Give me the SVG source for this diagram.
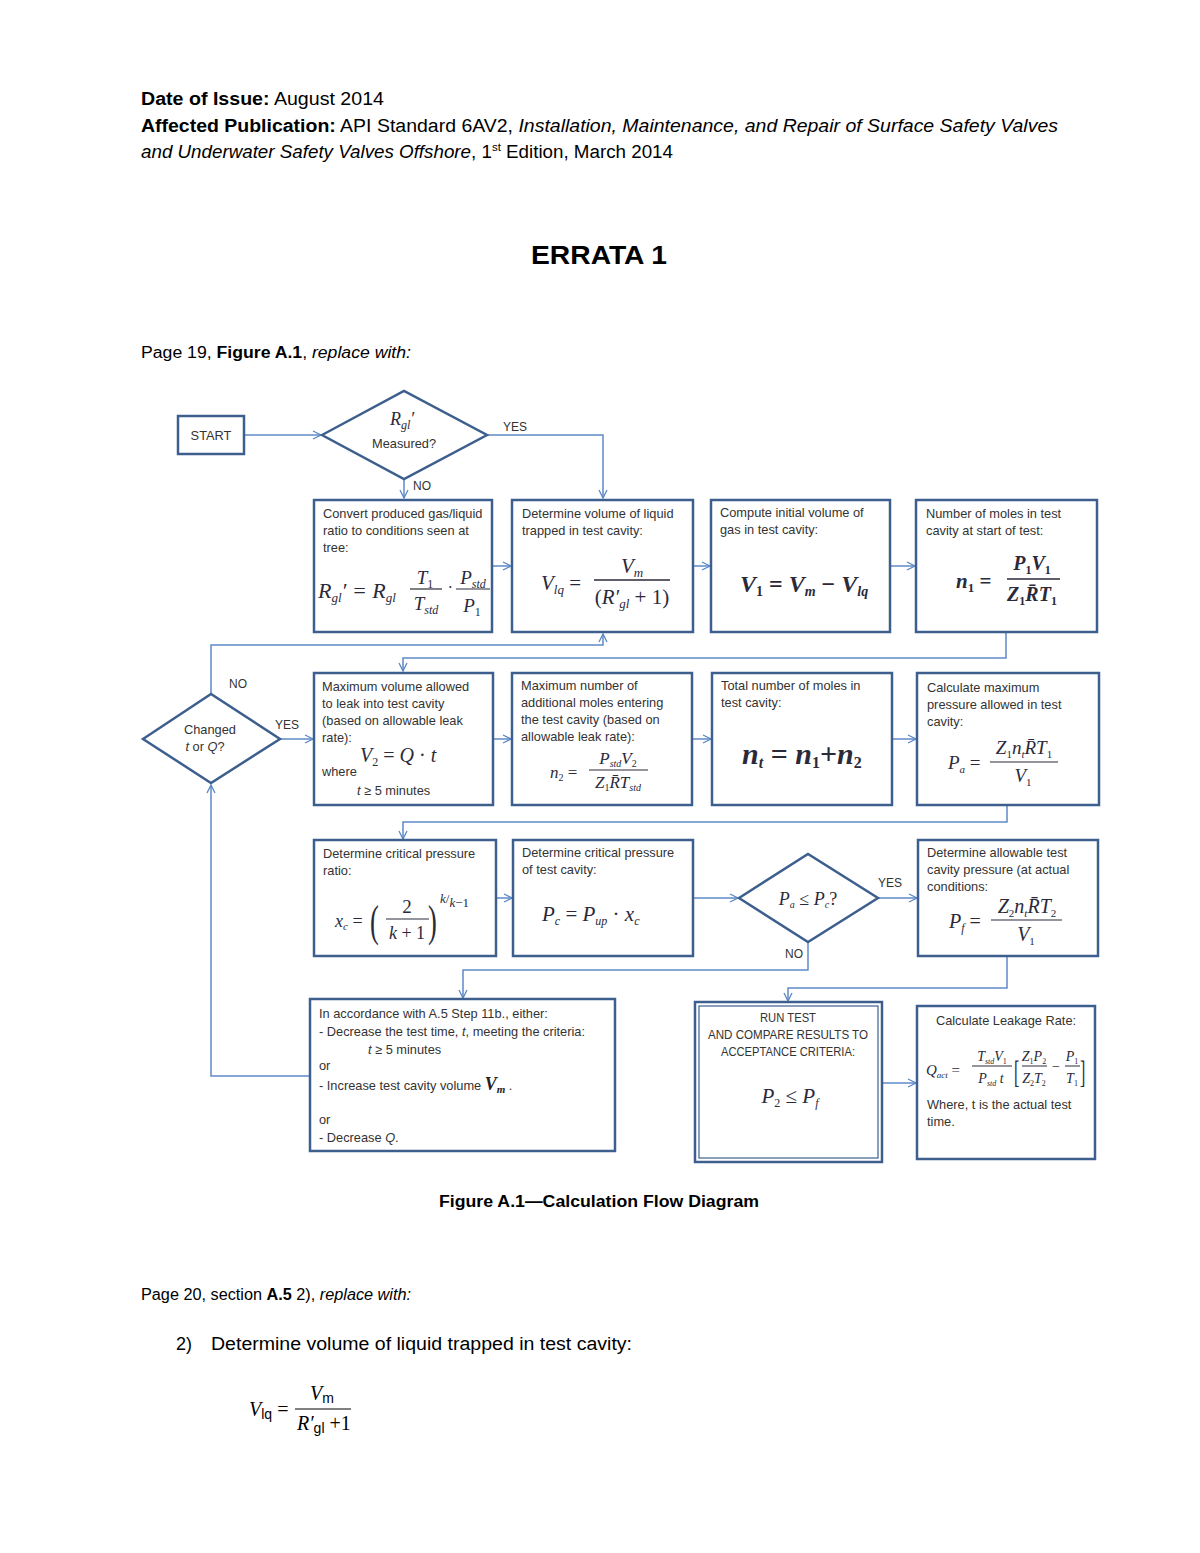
<svg xmlns="http://www.w3.org/2000/svg" width="1200" height="1553" viewBox="0 0 1200 1553">
<defs>
<marker id="arr" markerUnits="userSpaceOnUse" markerWidth="12" markerHeight="12" refX="9" refY="5" orient="auto">
<path d="M1,1 L9,5 L1,9" fill="none" stroke="#5b87c5" stroke-width="1.3"/>
</marker>
<style>
.hd{font-family:"Liberation Sans",Arial,sans-serif;font-size:18px;fill:#000}
.b{font-weight:bold}
.i{font-style:italic}
.box{fill:#fff;stroke:#3d5f8e;stroke-width:2.5}
.con{fill:none;stroke:#5f8bc8;stroke-width:1.5}
.t{font-family:"Liberation Sans",Arial,sans-serif;font-size:12.8px;fill:#333}
.lb{font-family:"Liberation Sans",Arial,sans-serif;font-size:12px;fill:#333}
.fm{font-family:"Liberation Serif","Times New Roman",serif;font-style:italic;fill:#2a2a3a}
.up{font-style:normal}
</style>
</defs>
<rect width="1200" height="1553" fill="#fff"/>

<g id="header">
<text class="hd" x="141" y="105" textLength="243" lengthAdjust="spacingAndGlyphs"><tspan class="b">Date of Issue:</tspan> August 2014</text>
<text class="hd" x="141" y="132" textLength="917" lengthAdjust="spacingAndGlyphs"><tspan class="b">Affected Publication:</tspan> API Standard 6AV2, <tspan class="i">Installation, Maintenance, and Repair of Surface Safety Valves</tspan></text>
<text class="hd" x="141" y="158" textLength="532" lengthAdjust="spacingAndGlyphs"><tspan class="i">and Underwater Safety Valves Offshore</tspan>, 1<tspan font-size="11" dy="-7">st</tspan><tspan dy="7"> Edition, March 2014</tspan></text>
<text x="599" y="264" text-anchor="middle" font-family="Liberation Sans,Arial,sans-serif" font-size="26" font-weight="bold" textLength="136" lengthAdjust="spacingAndGlyphs">ERRATA 1</text>
<text class="hd" x="141" y="358" style="font-size:16px" textLength="270" lengthAdjust="spacingAndGlyphs">Page 19, <tspan class="b">Figure A.1</tspan>, <tspan class="i">replace with:</tspan></text>
</g>

<g id="connectors">
<path class="con" d="M244,435 H321" marker-end="url(#arr)"/>
<path class="con" d="M487,435 H603 V498" marker-end="url(#arr)"/>
<path class="con" d="M404,479 V498" marker-end="url(#arr)"/>
<path class="con" d="M492,566 H511" marker-end="url(#arr)"/>
<path class="con" d="M693,566 H710" marker-end="url(#arr)"/>
<path class="con" d="M890,566 H915" marker-end="url(#arr)"/>
<path class="con" d="M211,694 V645 H603 V634" marker-end="url(#arr)"/>
<path class="con" d="M1006,632 V658 H403 V671" marker-end="url(#arr)"/>
<path class="con" d="M280,739 H313" marker-end="url(#arr)"/>
<path class="con" d="M493,739 H511" marker-end="url(#arr)"/>
<path class="con" d="M692,739 H711" marker-end="url(#arr)"/>
<path class="con" d="M892,739 H916" marker-end="url(#arr)"/>
<path class="con" d="M1007,805 V822 H403 V839" marker-end="url(#arr)"/>
<path class="con" d="M496,898 H512" marker-end="url(#arr)"/>
<path class="con" d="M693,898 H738" marker-end="url(#arr)"/>
<path class="con" d="M878,898 H917" marker-end="url(#arr)"/>
<path class="con" d="M808,942 V970 H463 V998" marker-end="url(#arr)"/>
<path class="con" d="M1007,956 V988 H788 V1001" marker-end="url(#arr)"/>
<path class="con" d="M882,1083 H916" marker-end="url(#arr)"/>
<path class="con" d="M310,1076 H211 V785" marker-end="url(#arr)"/>
<text class="lb" x="503" y="431">YES</text>
<text class="lb" x="413" y="490">NO</text>
<text class="lb" x="229" y="688">NO</text>
<text class="lb" x="275" y="729">YES</text>
<text class="lb" x="878" y="887">YES</text>
<text class="lb" x="785" y="958">NO</text>
</g>

<g id="start">
<rect class="box" x="178" y="416" width="66" height="38"/>
<text class="t" x="211" y="440" text-anchor="middle">START</text>
</g>

<g id="decision-measured">
<polygon class="box" points="322,435 404,391 487,435 404,479"/>
<text class="fm" x="390" y="425" font-size="18" fill="#555">R<tspan font-size="12" dy="4">gl</tspan><tspan dy="-4">′</tspan></text>
<text class="t" x="404" y="448" text-anchor="middle">Measured?</text>
</g>

<g id="convert-ratio">
<rect class="box" x="314" y="500" width="178" height="132"/>
<text class="t" x="323" y="518">Convert produced gas/liquid</text>
<text class="t" x="323" y="535">ratio to conditions seen at</text>
<text class="t" x="323" y="552">tree:</text>
<text class="fm" x="318" y="598" font-size="22">R<tspan font-size="13" dy="4">gl</tspan><tspan dy="-4">′ = R</tspan><tspan font-size="13" dy="4">gl</tspan></text>
<text class="fm" x="425" y="584" font-size="19" text-anchor="middle">T<tspan font-size="12" dy="4" class="up">1</tspan></text>
<line x1="410" y1="589" x2="442" y2="589" stroke="#2a2a3a" stroke-width="1.2"/>
<text class="fm" x="426" y="610" font-size="19" text-anchor="middle">T<tspan font-size="12" dy="4">std</tspan></text>
<text class="fm" x="448" y="593" font-size="16" font-style="normal">·</text>
<text class="fm" x="473" y="584" font-size="19" text-anchor="middle">P<tspan font-size="12" dy="4">std</tspan></text>
<line x1="456" y1="589" x2="490" y2="589" stroke="#2a2a3a" stroke-width="1.2"/>
<text class="fm" x="472" y="612" font-size="19" text-anchor="middle">P<tspan font-size="12" dy="4" class="up">1</tspan></text>
</g>

<g id="liquid-volume">
<rect class="box" x="512" y="500" width="181" height="132"/>
<text class="t" x="522" y="518">Determine volume of liquid</text>
<text class="t" x="522" y="535">trapped in test cavity:</text>
<text class="fm" x="541" y="590" font-size="21">V<tspan font-size="13" dy="4">lq</tspan><tspan dy="-4" class="up"> =</tspan></text>
<text class="fm" x="632" y="573" font-size="21" text-anchor="middle">V<tspan font-size="13" dy="4">m</tspan></text>
<line x1="594" y1="580" x2="670" y2="580" stroke="#2a2a3a" stroke-width="1.3"/>
<text class="fm" x="632" y="604" font-size="21" text-anchor="middle"><tspan class="up">(</tspan>R′<tspan font-size="13" dy="4">gl</tspan><tspan dy="-4" class="up"> + 1)</tspan></text>
</g>

<g id="gas-volume">
<rect class="box" x="711" y="500" width="179" height="132"/>
<text class="t" x="720" y="517">Compute initial volume of</text>
<text class="t" x="720" y="534">gas in test cavity:</text>
<text class="fm" x="740" y="592" font-size="24" font-weight="bold">V<tspan font-size="14" dy="4" class="up">1</tspan><tspan dy="-4" class="up"> = </tspan> V<tspan font-size="14" dy="4">m</tspan><tspan dy="-4" class="up"> − </tspan>V<tspan font-size="14" dy="4">lq</tspan></text>
</g>

<g id="moles-start">
<rect class="box" x="916" y="500" width="181" height="132"/>
<text class="t" x="926" y="518">Number of moles in test</text>
<text class="t" x="926" y="535">cavity at start of test:</text>
<text class="fm" x="956" y="588" font-size="21" font-weight="bold">n<tspan font-size="13" dy="4" class="up">1</tspan><tspan dy="-4" class="up"> =</tspan></text>
<text class="fm" x="1032" y="570" font-size="20" font-weight="bold" text-anchor="middle">P<tspan font-size="12" dy="4" class="up">1</tspan><tspan dy="-4">V</tspan><tspan font-size="12" dy="4" class="up">1</tspan></text>
<line x1="1007" y1="579" x2="1060" y2="579" stroke="#2a2a3a" stroke-width="1.4"/>
<text class="fm" x="1032" y="601" font-size="20" font-weight="bold" text-anchor="middle">Z<tspan font-size="12" dy="4" class="up">1</tspan><tspan dy="-4">R̄T</tspan><tspan font-size="12" dy="4" class="up">1</tspan></text>
</g>

<g id="decision-changed">
<polygon class="box" points="143,739 211,694 280,739 211,783"/>
<text class="t" x="210" y="734" text-anchor="middle">Changed</text>
<text class="t" x="205" y="751" text-anchor="middle"><tspan class="i">t</tspan> or <tspan class="i">Q</tspan>?</text>
</g>

<g id="max-volume">
<rect class="box" x="314" y="673" width="179" height="132"/>
<text class="t" x="322" y="691">Maximum volume allowed</text>
<text class="t" x="322" y="708">to leak into test cavity</text>
<text class="t" x="322" y="725">(based on allowable leak</text>
<text class="t" x="322" y="742">rate):</text>
<text class="fm" x="360" y="762" font-size="20">V<tspan font-size="12" dy="4" class="up">2</tspan><tspan dy="-4" class="up"> = </tspan>Q<tspan class="up"> · </tspan>t</text>
<text class="t" x="322" y="776">where</text>
<text class="t" x="357" y="795"><tspan class="i">t</tspan> ≥ 5 minutes</text>
</g>

<g id="max-moles">
<rect class="box" x="512" y="673" width="180" height="132"/>
<text class="t" x="521" y="690">Maximum number of</text>
<text class="t" x="521" y="707">additional moles entering</text>
<text class="t" x="521" y="724">the test cavity (based on</text>
<text class="t" x="521" y="741">allowable leak rate):</text>
<text class="fm" x="550" y="778" font-size="17">n<tspan font-size="10" dy="3" class="up">2</tspan><tspan dy="-3" class="up"> =</tspan></text>
<text class="fm" x="618" y="764" font-size="17" text-anchor="middle">P<tspan font-size="10" dy="3">std</tspan><tspan dy="-3">V</tspan><tspan font-size="10" dy="3" class="up">2</tspan></text>
<line x1="589" y1="770" x2="648" y2="770" stroke="#2a2a3a" stroke-width="1.1"/>
<text class="fm" x="618" y="788" font-size="17" text-anchor="middle">Z<tspan font-size="10" dy="3" class="up">1</tspan><tspan dy="-3">R̄T</tspan><tspan font-size="10" dy="3">std</tspan></text>
</g>

<g id="total-moles">
<rect class="box" x="712" y="673" width="180" height="132"/>
<text class="t" x="721" y="690">Total number of moles in</text>
<text class="t" x="721" y="707">test cavity:</text>
<text class="fm" x="742" y="764" font-size="30" font-weight="bold">n<tspan font-size="16" dy="4">t</tspan><tspan dy="-4" class="up"> = </tspan>n<tspan font-size="16" dy="4" class="up">1</tspan><tspan dy="-4" class="up">+</tspan>n<tspan font-size="16" dy="4" class="up">2</tspan></text>
</g>

<g id="max-pressure">
<rect class="box" x="917" y="673" width="182" height="132"/>
<text class="t" x="927" y="692">Calculate maximum</text>
<text class="t" x="927" y="709">pressure allowed in test</text>
<text class="t" x="927" y="726">cavity:</text>
<text class="fm" x="948" y="769" font-size="19">P<tspan font-size="11" dy="4">a</tspan><tspan dy="-4" class="up"> =</tspan></text>
<text class="fm" x="1024" y="754" font-size="19" text-anchor="middle">Z<tspan font-size="11" dy="4" class="up">1</tspan><tspan dy="-4">n</tspan><tspan font-size="11" dy="4">t</tspan><tspan dy="-4">R̄T</tspan><tspan font-size="11" dy="4" class="up">1</tspan></text>
<line x1="990" y1="762" x2="1058" y2="762" stroke="#2a2a3a" stroke-width="1.2"/>
<text class="fm" x="1023" y="782" font-size="19" text-anchor="middle">V<tspan font-size="11" dy="4" class="up">1</tspan></text>
</g>

<g id="critical-ratio">
<rect class="box" x="314" y="840" width="182" height="116"/>
<text class="t" x="323" y="858">Determine critical pressure</text>
<text class="t" x="323" y="875">ratio:</text>
<text class="fm" x="335" y="927" font-size="18">x<tspan font-size="11" dy="3">c</tspan><tspan dy="-3" class="up"> =</tspan></text>
<text x="370" y="936" font-family="Liberation Serif,serif" font-size="44" fill="#2a2a3a" transform="translate(370,0) scale(0.6,1) translate(-370,0)">(</text>
<text x="407" y="913" font-family="Liberation Serif,serif" font-size="19" text-anchor="middle" fill="#2a2a3a">2</text>
<line x1="386" y1="919" x2="429" y2="919" stroke="#2a2a3a" stroke-width="1.2"/>
<text class="fm" x="407" y="939" font-size="18" text-anchor="middle">k<tspan class="up"> + 1</tspan></text>
<text x="428" y="936" font-family="Liberation Serif,serif" font-size="44" fill="#2a2a3a" transform="translate(428,0) scale(0.6,1) translate(-428,0)">)</text>
<text class="fm" x="440" y="903" font-size="13">k<tspan class="up">/</tspan><tspan dy="4">k</tspan><tspan class="up">−1</tspan></text>
</g>

<g id="critical-pressure">
<rect class="box" x="513" y="840" width="180" height="116"/>
<text class="t" x="522" y="857">Determine critical pressure</text>
<text class="t" x="522" y="874">of test cavity:</text>
<text class="fm" x="542" y="921" font-size="21">P<tspan font-size="12" dy="4">c</tspan><tspan dy="-4" class="up"> = </tspan>P<tspan font-size="12" dy="4">up</tspan><tspan dy="-4" class="up"> · </tspan>x<tspan font-size="12" dy="4">c</tspan></text>
</g>

<g id="decision-pa-pc">
<polygon class="box" points="739,898 808,854 878,898 808,942"/>
<text class="fm" x="808" y="905" font-size="18" text-anchor="middle">P<tspan font-size="10" dy="3">a</tspan><tspan dy="-3" class="up"> ≤ </tspan>P<tspan font-size="10" dy="3">c</tspan><tspan dy="-3" class="up">?</tspan></text>
</g>

<g id="allowable-pressure">
<rect class="box" x="918" y="840" width="180" height="116"/>
<text class="t" x="927" y="857">Determine allowable test</text>
<text class="t" x="927" y="874">cavity pressure (at actual</text>
<text class="t" x="927" y="891">conditions:</text>
<text class="fm" x="949" y="928" font-size="20">P<tspan font-size="12" dy="4">f</tspan><tspan dy="-4" class="up"> =</tspan></text>
<text class="fm" x="1027" y="913" font-size="20" text-anchor="middle">Z<tspan font-size="11" dy="4" class="up">2</tspan><tspan dy="-4">n</tspan><tspan font-size="11" dy="4">t</tspan><tspan dy="-4">R̄T</tspan><tspan font-size="11" dy="4" class="up">2</tspan></text>
<line x1="991" y1="920" x2="1062" y2="920" stroke="#2a2a3a" stroke-width="1.2"/>
<text class="fm" x="1026" y="941" font-size="20" text-anchor="middle">V<tspan font-size="11" dy="4" class="up">1</tspan></text>
</g>

<g id="adjust">
<rect class="box" x="310" y="999" width="305" height="152"/>
<text class="t" x="319" y="1018">In accordance with A.5  Step 11b., either:</text>
<text class="t" x="319" y="1036">- Decrease the test time, <tspan class="i">t</tspan>, meeting the criteria:</text>
<text class="t" x="368" y="1054"><tspan class="i">t</tspan> ≥ 5 minutes</text>
<text class="t" x="319" y="1070">or</text>
<text class="t" x="319" y="1090">- Increase test cavity volume <tspan font-family="Liberation Serif,serif" font-style="italic" font-weight="bold" font-size="18" fill="#222">V</tspan><tspan font-family="Liberation Serif,serif" font-style="italic" font-weight="bold" font-size="11" dy="3" fill="#222">m</tspan><tspan dy="-3">  .</tspan></text>
<text class="t" x="319" y="1124">or</text>
<text class="t" x="319" y="1142">- Decrease <tspan class="i">Q</tspan>.</text>
</g>

<g id="run-test">
<rect class="box" x="695" y="1002" width="187" height="160"/>
<rect x="699" y="1006" width="179" height="152" fill="none" stroke="#3d5f8e" stroke-width="1.2"/>
<text class="t" x="788" y="1022" text-anchor="middle" textLength="56" lengthAdjust="spacingAndGlyphs">RUN TEST</text>
<text class="t" x="788" y="1039" text-anchor="middle" textLength="160" lengthAdjust="spacingAndGlyphs">AND COMPARE RESULTS TO</text>
<text class="t" x="788" y="1056" text-anchor="middle" textLength="134" lengthAdjust="spacingAndGlyphs">ACCEPTANCE CRITERIA:</text>
<text class="fm" x="790" y="1103" font-size="21" text-anchor="middle">P<tspan font-size="12" dy="4" class="up">2</tspan><tspan dy="-4" class="up"> ≤ </tspan>P<tspan font-size="12" dy="4">f</tspan></text>
</g>

<g id="leakage-rate">
<rect class="box" x="917" y="1006" width="178" height="153"/>
<text class="t" x="1006" y="1025" text-anchor="middle">Calculate Leakage Rate:</text>
<text class="fm" x="926" y="1075" font-size="15">Q<tspan font-size="9" dy="3">act</tspan><tspan dy="-3" class="up"> =</tspan></text>
<text class="fm" x="992" y="1061" font-size="14" text-anchor="middle">T<tspan font-size="8" dy="3">std</tspan><tspan dy="-3">V</tspan><tspan font-size="8" dy="3" class="up">1</tspan></text>
<line x1="972" y1="1066" x2="1012" y2="1066" stroke="#2a2a3a" stroke-width="1"/>
<text class="fm" x="991" y="1083" font-size="14" text-anchor="middle">P<tspan font-size="8" dy="3">std</tspan><tspan dy="-3"> t</tspan></text>
<text x="1014" y="1083" font-family="Liberation Serif,serif" font-size="32" fill="#2a2a3a" transform="translate(1014,0) scale(0.5,1) translate(-1014,0)">[</text>
<text class="fm" x="1034" y="1061" font-size="14" text-anchor="middle">Z<tspan font-size="8" dy="3" class="up">1</tspan><tspan dy="-3">P</tspan><tspan font-size="8" dy="3" class="up">2</tspan></text>
<line x1="1022" y1="1066" x2="1047" y2="1066" stroke="#2a2a3a" stroke-width="1"/>
<text class="fm" x="1034" y="1083" font-size="14" text-anchor="middle">Z<tspan font-size="8" dy="3" class="up">2</tspan><tspan dy="-3">T</tspan><tspan font-size="8" dy="3" class="up">2</tspan></text>
<text x="1052" y="1071" font-family="Liberation Serif,serif" font-size="14" fill="#2a2a3a">−</text>
<text class="fm" x="1072" y="1061" font-size="14" text-anchor="middle">P<tspan font-size="8" dy="3" class="up">1</tspan></text>
<line x1="1065" y1="1066" x2="1080" y2="1066" stroke="#2a2a3a" stroke-width="1"/>
<text class="fm" x="1072" y="1083" font-size="14" text-anchor="middle">T<tspan font-size="8" dy="3" class="up">1</tspan></text>
<text x="1080" y="1083" font-family="Liberation Serif,serif" font-size="32" fill="#2a2a3a" transform="translate(1080,0) scale(0.5,1) translate(-1080,0)">]</text>
<text class="t" x="927" y="1109">Where, t is the actual test</text>
<text class="t" x="927" y="1126">time.</text>
</g>

<g id="footer">
<text class="hd b" x="439" y="1207" style="font-size:16px" textLength="320" lengthAdjust="spacingAndGlyphs">Figure A.1—Calculation Flow Diagram</text>
<text class="hd" x="141" y="1300" style="font-size:16px" textLength="270" lengthAdjust="spacingAndGlyphs">Page 20, section <tspan class="b">A.5</tspan> 2), <tspan class="i">replace with:</tspan></text>
<text class="hd" x="176" y="1350">2)</text>
<text class="hd" x="211" y="1350" textLength="421" lengthAdjust="spacingAndGlyphs">Determine volume of liquid trapped in test cavity:</text>
<text x="249" y="1416" font-family="Liberation Serif,serif" font-style="italic" font-size="20">V<tspan font-style="normal" font-family="Liberation Sans,Arial,sans-serif" font-size="14" dy="3">lq</tspan><tspan dy="-3" font-style="normal"> =</tspan></text>
<text x="310" y="1400" font-family="Liberation Serif,serif" font-style="italic" font-size="20">V<tspan font-style="normal" font-family="Liberation Sans,Arial,sans-serif" font-size="14" dy="3">m</tspan></text>
<line x1="295" y1="1409" x2="351" y2="1409" stroke="#000" stroke-width="1"/>
<text x="297" y="1430" font-family="Liberation Serif,serif" font-style="italic" font-size="20">R′<tspan font-style="normal" font-family="Liberation Sans,Arial,sans-serif" font-size="14" dy="3">gl</tspan><tspan dy="-3" font-style="normal"> +1</tspan></text>
</g>
</svg>
